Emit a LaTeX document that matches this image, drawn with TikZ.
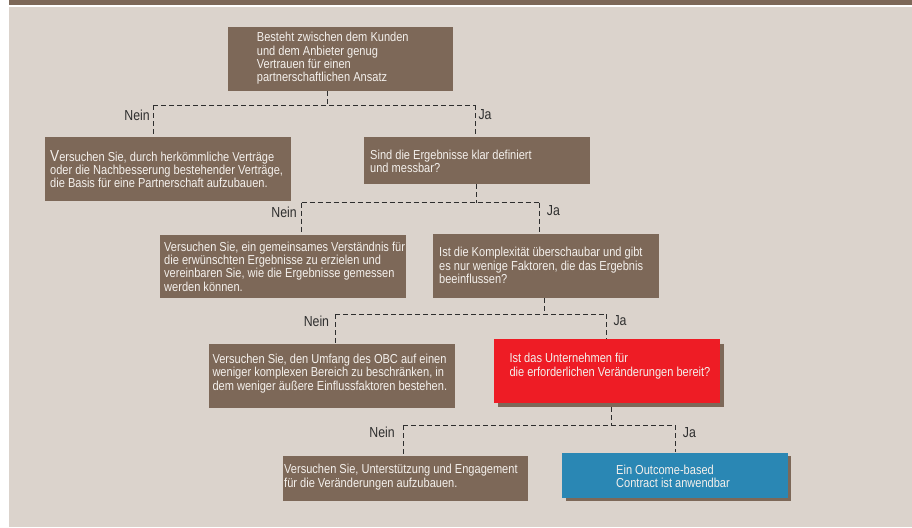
\documentclass[tikz,border=0pt]{standalone}
\usepackage{fontspec}
\setmainfont{Liberation Sans}
\newfontfamily\cond[FakeStretch=0.85]{Liberation Sans}
\usetikzlibrary{shadows}
\definecolor{brownc}{HTML}{7D6858}
\definecolor{beige}{HTML}{DBD3CC}
\definecolor{redc}{HTML}{EE1C25}
\definecolor{bluec}{HTML}{2A87B4}
\definecolor{boxtext}{HTML}{F4F0EC}
\definecolor{linec}{HTML}{2E2E2E}
\tikzset{
  box/.style={rectangle, fill=brownc, draw=none, inner sep=0pt, anchor=north west},
  redbox/.style={box, fill=redc, general shadow={fill=brownc, shadow xshift=4pt, shadow yshift=-4.3pt}},
  bluebox/.style={box, fill=bluec, general shadow={fill=brownc, shadow xshift=3.5pt, shadow yshift=-3.5pt}},
  txt/.style={inner sep=0pt, align=left, text=boxtext, anchor=west,
    font=\cond\fontsize{13}{13.3}\selectfont},
  lbl/.style={inner sep=0pt, text=linec, font=\cond\fontsize{14.5}{16}\selectfont},
  conn/.style={draw=linec, line width=1pt, dash pattern=on 5pt off 3pt}
}
\begin{document}
\begin{tikzpicture}[x=1pt,y=-1pt]
\useasboundingbox (0,0) rectangle (912,527);
\fill[white] (0,0) rectangle (912,527);
\fill[beige] (9,7.3) rectangle (912,527);
\fill[brownc] (9,0) rectangle (912,5);

% boxes
\node[box, minimum width=225.4pt, minimum height=64pt] (top) at (227.3,26.7) {};
\node[box, minimum width=245.7pt, minimum height=64pt] (l1) at (45,136.7) {};
\node[box, minimum width=226pt, minimum height=47.3pt] (r1) at (364,136.7) {};
\node[box, minimum width=246pt, minimum height=63.4pt] (l2) at (160,234.3) {};
\node[box, minimum width=226.3pt, minimum height=63.7pt] (r2) at (432.7,234) {};
\node[box, minimum width=246pt, minimum height=63.7pt] (l3) at (209,344) {};
\node[redbox, minimum width=226pt, minimum height=63.7pt] (rd) at (494,339) {};
\node[box, minimum width=245.4pt, minimum height=44.7pt] (l4) at (282.3,456) {};
\node[bluebox, minimum width=225.7pt, minimum height=45.4pt] (bl) at (562,452.3) {};

% texts
\node[txt] (ttop) at (256.7,58.5) {Besteht zwischen dem Kunden\\und dem Anbieter genug\\Vertrauen für einen\\partnerschaftlichen Ansatz};
\node[txt] (tl1) at (50,169) {{\fontsize{16}{13.3}\selectfont V}ersuchen Sie, durch herkömmliche Verträge\\oder die Nachbesserung bestehender Verträge,\\die Basis für eine Partnerschaft aufzubauen.};
\node[txt] (tr1) at (370,161.5) {Sind die Ergebnisse klar definiert\\und messbar?};
\node[txt] (tl2) at (164,266.5) {Versuchen Sie, ein gemeinsames Verständnis für\\die erwünschten Ergebnisse zu erzielen und\\vereinbaren Sie, wie die Ergebnisse gemessen\\werden können.};
\node[txt] (tr2) at (439,265.5) {Ist die Komplexität überschaubar und gibt\\es nur wenige Faktoren, die das Ergebnis\\beeinflussen?};
\node[txt] (tl3) at (212.3,373.5) {Versuchen Sie, den Umfang des OBC auf einen\\weniger komplexen Bereich zu beschränken, in\\dem weniger äußere Einflussfaktoren bestehen.};
\node[txt] (trd) at (509.3,366) {Ist das Unternehmen für\\die erforderlichen Veränderungen bereit?};
\node[txt] (tl4) at (284,477) {Versuchen Sie, Unterstützung und Engagement\\für die Veränderungen aufzubauen.};
\node[txt] (tbl) at (616,476) {Ein Outcome-based\\Contract ist anwendbar};

% level 1
\coordinate (j1) at (327.3,105);
\coordinate (a1) at (153.3,105);
\coordinate (b1) at (475,105);
\draw[conn] (j1 |- top.south) -- (j1);
\draw[conn] (a1) -- (b1);
\draw[conn] (a1) -- (a1 |- l1.north);
\draw[conn] (b1) -- (b1 |- r1.north);
\node[lbl, anchor=east] (n1) at (150,115) {Nein};
\node[lbl, anchor=west] (y1) at (478.3,115) {Ja};

% level 2
\coordinate (j2) at (476,202.7);
\coordinate (a2) at (301.7,202.7);
\coordinate (b2) at (539.3,202.7);
\draw[conn] (j2 |- r1.south) -- (j2);
\draw[conn] (a2) -- (b2);
\draw[conn] (a2) -- (a2 |- l2.north);
\draw[conn] (b2) -- (b2 |- r2.north);
\node[lbl, anchor=east] (n2) at (297,212) {Nein};
\node[lbl, anchor=west] (y2) at (546.7,211) {Ja};

% level 3
\coordinate (j3) at (544,314.3);
\coordinate (a3) at (335,314.3);
\coordinate (b3) at (606.7,314.3);
\draw[conn] (j3 |- r2.south) -- (j3);
\draw[conn] (a3) -- (b3);
\draw[conn] (a3) -- (a3 |- l3.north);
\draw[conn] (b3) -- (b3 |- rd.north);
\node[lbl, anchor=east] (n3) at (329.3,321) {Nein};
\node[lbl, anchor=west] (y3) at (613.3,321) {Ja};

% level 4
\coordinate (j4) at (611.7,425);
\coordinate (a4) at (403.3,425);
\coordinate (b4) at (675,425);
\draw[conn] ([yshift=-4.3pt]j4 |- rd.south) -- (j4);
\draw[conn] (a4) -- (b4);
\draw[conn] (a4) -- (a4 |- l4.north);
\draw[conn] (b4) -- (b4 |- bl.north);
\node[lbl, anchor=east] (n4) at (395,432.7) {Nein};
\node[lbl, anchor=west] (y4) at (682.7,432.7) {Ja};
\end{tikzpicture}
\end{document}
